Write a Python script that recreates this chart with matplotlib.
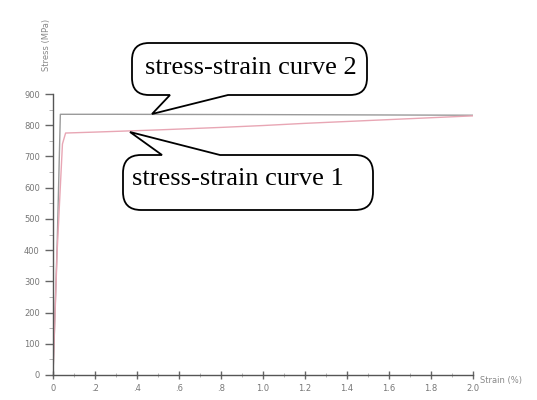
import matplotlib
matplotlib.use("Agg")
import matplotlib.pyplot as plt
from matplotlib.path import Path
from matplotlib.patches import PathPatch
from matplotlib.ticker import MultipleLocator

# ---- data ----
strain_1 = [0.0, 0.02, 0.045, 0.06, 0.2, 0.5, 0.8, 1.0, 1.2, 1.5, 1.8, 2.0]
stress_1 = [0, 400, 740, 775, 778, 785, 793, 799, 806, 815, 824, 830]
strain_2 = [0.0, 0.02, 0.035, 0.3, 1.0, 1.5, 2.0]
stress_2 = [0, 420, 835, 835, 834, 833, 832]
x_ticks = [0.0, 0.2, 0.4, 0.6, 0.8, 1.0, 1.2, 1.4, 1.6, 1.8, 2.0]
x_ticklabels = ["0", ".2", ".4", ".6", ".8", "1.0", "1.2", "1.4", "1.6", "1.8", "2.0"]
y_ticks = [0, 100, 200, 300, 400, 500, 600, 700, 800, 900]
label_1 = "stress-strain curve 1"
label_2 = "stress-strain curve 2"

W, H = 537, 400
fig = plt.figure(figsize=(W / 100, H / 100), dpi=100)
ax = fig.add_axes([53 / W, 1 - 375 / H, (473 - 53) / W, (375 - 94) / H])

ax.plot(strain_2, stress_2, color="#9a9a9a", lw=1.0)
ax.plot(strain_1, stress_1, color="#e8a6b4", lw=1.0)

ax.set_xlim(0, 2.0)
ax.set_ylim(0, 900)
ax.set_xticks(x_ticks)
ax.set_xticklabels(x_ticklabels)
ax.set_yticks(y_ticks)
ax.xaxis.set_minor_locator(MultipleLocator(0.1))
ax.yaxis.set_minor_locator(MultipleLocator(50))
for s in ["top", "right"]:
    ax.spines[s].set_visible(False)
for s in ["left", "bottom"]:
    ax.spines[s].set_color("#555555")
    ax.spines[s].set_linewidth(1.0)
ax.tick_params(axis="both", which="major", length=6, width=1.0, color="#666666",
               labelsize=6, labelcolor="#777777")
ax.tick_params(axis="x", which="major", direction="inout")
ax.tick_params(axis="both", which="minor", length=3, width=0.6, color="#aaaaaa")
ax.tick_params(axis="x", which="minor", direction="inout")

fig.text(480 / W, 1 - 381 / H, "Strain (%)", fontsize=6, color="#888888",
         ha="left", va="center")
fig.text(46 / W, 1 - 45 / H, "Stress (MPa)", fontsize=6, color="#888888",
         rotation=90, ha="center", va="center")


def callout(x0, y0, x1, y1, r, side, ba, bb, tip):
    """Rounded box with wedge, pixel coords (y down)."""
    verts, codes = [], []

    def mv(p):
        verts.append(p); codes.append(Path.MOVETO)

    def ln(p):
        verts.append(p); codes.append(Path.LINETO)

    def qc(c, p):
        verts.extend([c, p]); codes.extend([Path.CURVE3, Path.CURVE3])

    mv((x0 + r, y0))
    if side == "top":
        ln((ba, y0)); ln(tip); ln((bb, y0))
    ln((x1 - r, y0)); qc((x1, y0), (x1, y0 + r))
    ln((x1, y1 - r)); qc((x1, y1), (x1 - r, y1))
    if side == "bottom":
        ln((bb, y1)); ln(tip); ln((ba, y1))
    ln((x0 + r, y1)); qc((x0, y1), (x0, y1 - r))
    ln((x0, y0 + r)); qc((x0, y0), (x0 + r, y0))
    codes.append(Path.CLOSEPOLY); verts.append((x0 + r, y0))
    verts = [(x / W, 1 - y / H) for x, y in verts]
    p = PathPatch(Path(verts, codes), transform=fig.transFigure, facecolor="white",
                  edgecolor="black", lw=1.3, zorder=5)
    fig.patches.append(p)


callout(132, 43, 367, 95, 17, "bottom", 170, 228, (152, 114))
fig.text((132 + 367) / 2 / W + 1 / W, 1 - 68 / H, label_2, family="Liberation Serif",
         fontsize=19, ha="center", va="center", zorder=6)
callout(123, 155, 373, 210, 18, "top", 162, 220, (130, 132))
fig.text(238 / W, 1 - 179 / H, label_1, family="Liberation Serif",
         fontsize=19, ha="center", va="center", zorder=6)

fig.savefig("out.png", dpi=100, facecolor="white")
